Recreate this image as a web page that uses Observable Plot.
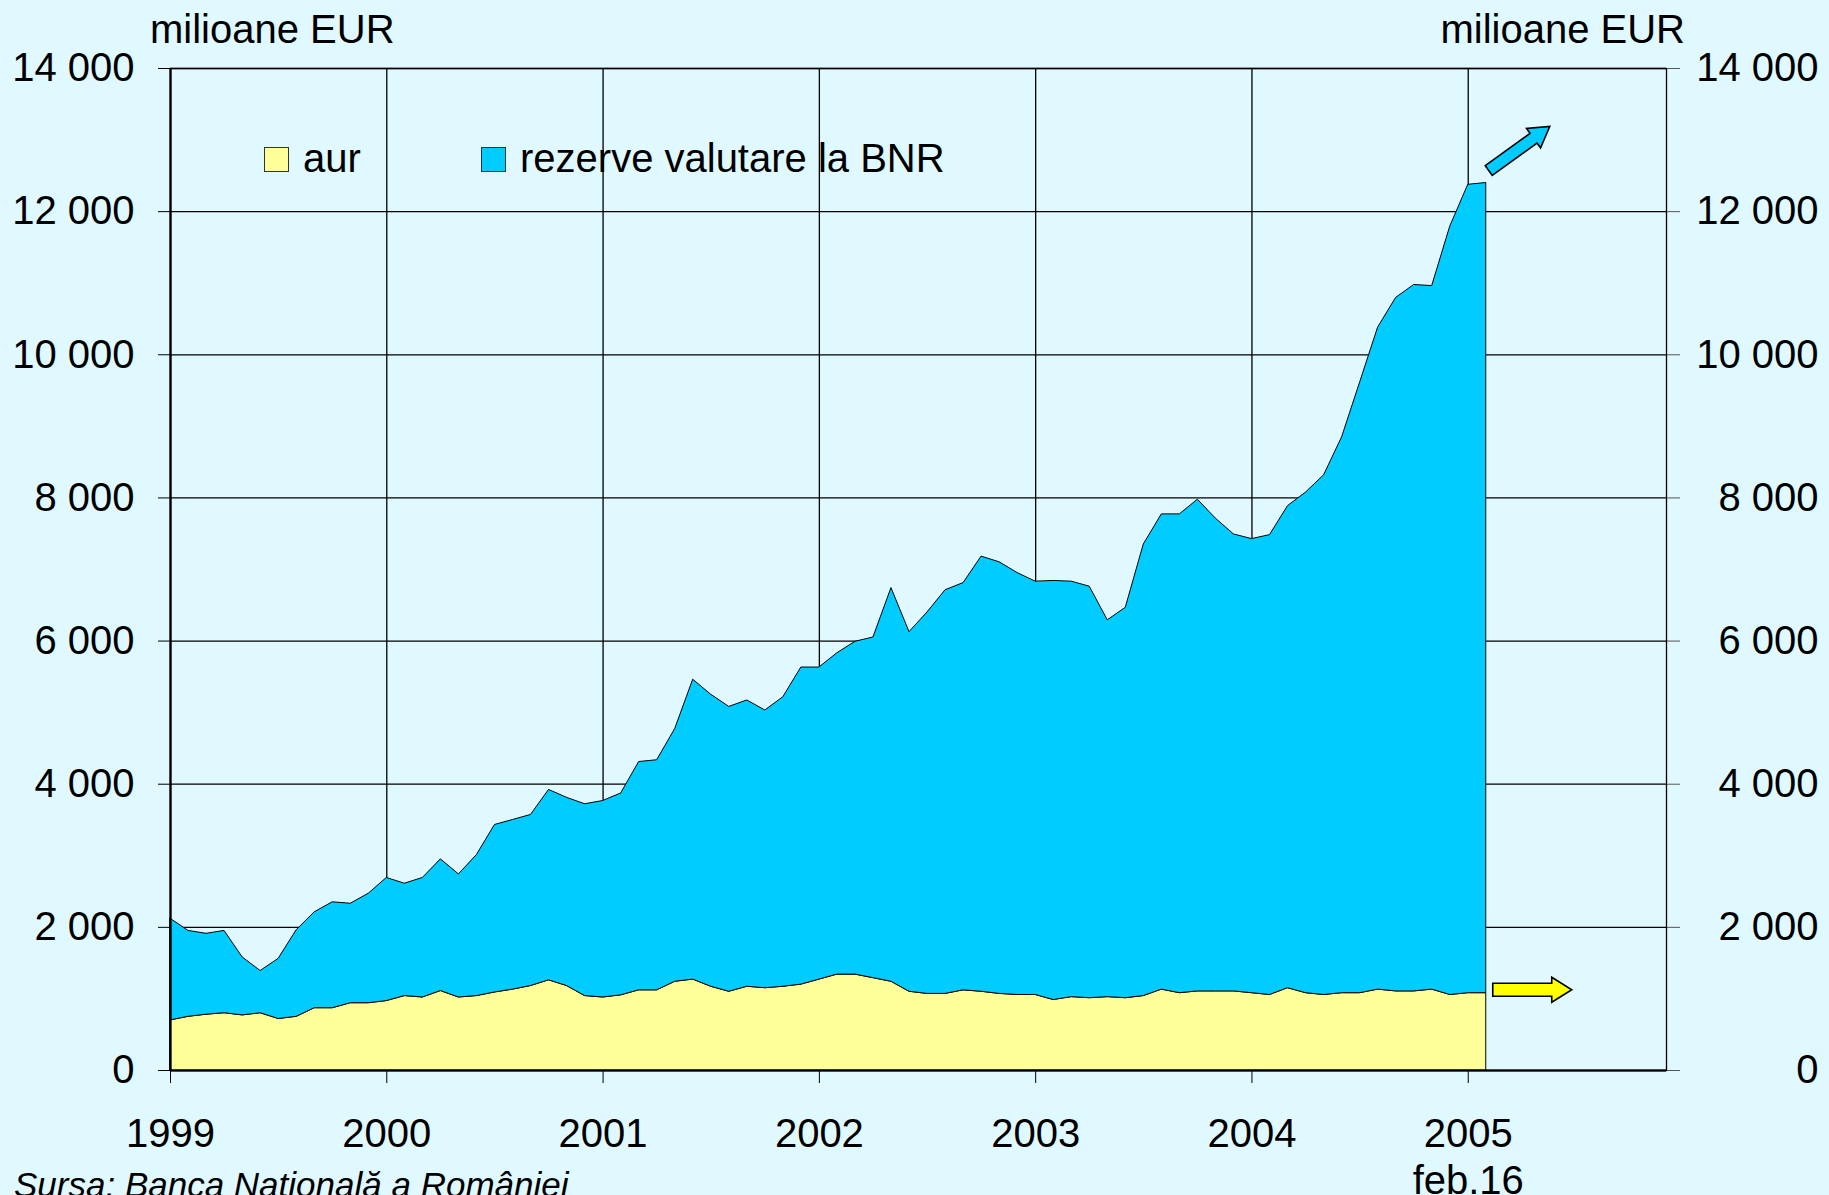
<!DOCTYPE html>
<html>
<head>
<meta charset="utf-8">
<script src="https://cdn.jsdelivr.net/npm/d3@7"></script>
<script src="https://cdn.jsdelivr.net/npm/@observablehq/plot@0.6"></script>
<style>
html, body { margin: 0; padding: 0; background: #E0F8FF; overflow: hidden; }
#wrap { position: relative; width: 1829px; height: 1195px; font-family: "Liberation Sans", Arial, sans-serif; color: #000; }
#wrap svg { position: absolute; left: 0; top: 0; }
.t { position: absolute; font-size: 40px; line-height: 40px; white-space: nowrap; }
.sw { position: absolute; width: 25px; height: 25px; box-sizing: border-box; border: 1.5px solid #333; }
.cap { position: absolute; font-size: 35px; line-height: 35px; font-style: italic; white-space: nowrap; }
</style>
</head>
<body>
<div id="wrap"></div>
<script>
// ---- data (monthly, Jan 1999 .. Feb 2005), milioane EUR ----
const yearLabels = ["1999", "2000", "2001", "2002", "2003", "2004", "2005"];
const lastLabel = "feb.16";
const seriesNames = ["aur", "rezerve valutare la BNR"];
const unitLabel = "milioane EUR";
const sourceText = "Sursa: Banca Naţională a României";
const yTicks = [0, 2000, 4000, 6000, 8000, 10000, 12000, 14000];

const aur = [
  700, 750, 780, 800, 770, 800, 720, 750, 870, 870, 940, 940,
  970, 1040, 1020, 1110, 1020, 1040, 1090, 1130, 1180, 1260, 1180, 1040,
  1020, 1050, 1120, 1120, 1240, 1270, 1170, 1100, 1170, 1150, 1170, 1200,
  1270, 1340, 1340, 1290, 1240, 1100, 1070, 1070, 1120, 1100, 1070, 1055,
  1055, 985, 1025, 1010, 1025, 1010, 1040, 1130, 1080, 1105, 1105, 1105,
  1080, 1055, 1150, 1080, 1055, 1080, 1080, 1130, 1105, 1105, 1130, 1055,
  1080, 1080
];
const rezerve = [
  1420, 1200, 1130, 1150, 810, 590, 840, 1210, 1340, 1480, 1390, 1530,
  1720, 1570, 1670, 1840, 1720, 1970, 2340, 2370, 2390, 2660, 2630, 2680,
  2745, 2820, 3190, 3215, 3530, 4190, 4080, 3980, 4000, 3880, 4045, 4430,
  4360, 4490, 4650, 4760, 5500, 5025, 5330, 5640, 5690, 6080, 6030, 5895,
  5775, 5855, 5805, 5750, 5265, 5455, 6310, 6640, 6690, 6870, 6605, 6385,
  6345, 6425, 6735, 6995, 7260, 7765, 8530, 9250, 9690, 9870, 9830, 10735,
  11295, 11320
];

// ---- table for the library ----
const rows = [];
aur.forEach((v, i) => {
  rows.push({i, serie: seriesNames[0], v});
  rows.push({i, serie: seriesNames[1], v: rezerve[i]});
});
const lastI = aur.length - 1;
const xTicks = yearLabels.map((_, k) => k * 12);
const xMax = yearLabels.length * 12 - 1; // Dec 2005
const fmt = d => d3.format(",")(d).replace(/,/g, " ");
const xFmt = i => {
  const k = i / 12;
  return k === yearLabels.length - 1 ? yearLabels[k] + "\n" + lastLabel : yearLabels[k];
};

// block arrows attached to the end of the series
function blockArrow(g, T, P, w, hw, hl, fill) {
  const dx = P[0] - T[0], dy = P[1] - T[1];
  const L = Math.hypot(dx, dy);
  const ux = dx / L, uy = dy / L, nx = -uy, ny = ux;
  const B = [P[0] - ux * hl, P[1] - uy * hl];
  const pts = [
    [T[0] + nx * w, T[1] + ny * w],
    [B[0] + nx * w, B[1] + ny * w],
    [B[0] + nx * hw, B[1] + ny * hw],
    P,
    [B[0] - nx * hw, B[1] - ny * hw],
    [B[0] - nx * w, B[1] - ny * w],
    [T[0] - nx * w, T[1] - ny * w]
  ];
  g.append("polygon")
    .attr("points", pts.map(p => p.join(",")).join(" "))
    .attr("fill", fill).attr("stroke", "#000").attr("stroke-width", 1.6)
    .attr("stroke-linejoin", "miter");
}
function arrowsMark(index, scales) {
  const g = d3.create("svg:g");
  const xe = scales.x(lastI);
  const yTot = scales.y(aur[lastI] + rezerve[lastI]);
  const yAur = scales.y(aur[lastI]);
  blockArrow(g, [xe + 3, yTot - 12], [xe + 64, yTot - 56], 6, 12, 20, "#00CCFF");
  blockArrow(g, [xe + 7, yAur - 3], [xe + 86, yAur - 3], 6.5, 12.5, 20, "#FFFF00");
  return g.node();
}

const chart = Plot.plot({
  width: 1829,
  height: 1195,
  marginLeft: 170,
  marginRight: 163,
  marginTop: 68,
  marginBottom: 125,
  style: {background: "transparent", fontFamily: "Liberation Sans, Arial, sans-serif", fontSize: "40px", color: "#000", overflow: "visible"},
  x: {domain: [0, xMax]},
  y: {domain: [0, 14000]},
  color: {domain: seriesNames, range: ["#FFFF99", "#00CCFF"]},
  marks: [
    Plot.gridY(yTicks, {stroke: "#000", strokeOpacity: 1, strokeWidth: 1.3}),
    Plot.gridX(xTicks, {stroke: "#000", strokeOpacity: 1, strokeWidth: 1.3}),
    Plot.areaY(rows, {x: "i", y: "v", fill: "serie", stroke: "#000", strokeWidth: 1, strokeLinejoin: "miter"}),
    Plot.frame({stroke: "#000", strokeWidth: 1.3}),
    Plot.ruleY([0], {stroke: "#000", strokeWidth: 2.2}),
    Plot.ruleX([0], {stroke: "#000", strokeWidth: 2.2}),
    Plot.axisY({anchor: "left", ticks: yTicks, tickSize: 12, tickPadding: 24, tickFormat: fmt, label: null, fontSize: 40}),
    Plot.axisY({anchor: "right", ticks: yTicks, tickSize: 13, tickPadding: 139, textAnchor: "end", tickFormat: fmt, label: null, fontSize: 40, stroke: "#555"}),
    Plot.axisX({ticks: xTicks, tickSize: 13, tickPadding: 30, tickFormat: xFmt, label: null, fontSize: 40, lineHeight: 1.18}),
    arrowsMark
  ]
});

const wrap = document.getElementById("wrap");
wrap.appendChild(chart);

function addDiv(cls, text, css) {
  const d = document.createElement("div");
  d.className = cls;
  if (text) d.textContent = text;
  Object.assign(d.style, css);
  wrap.appendChild(d);
  return d;
}
addDiv("t", unitLabel, {left: "150px", top: "9px"});
addDiv("t", unitLabel, {right: "144px", top: "9px"});
addDiv("sw", "", {left: "264px", top: "147px", background: "#FFFF99"});
addDiv("t", seriesNames[0], {left: "303px", top: "138px"});
addDiv("sw", "", {left: "481px", top: "147px", background: "#00CCFF"});
addDiv("t", seriesNames[1], {left: "520px", top: "138px"});
addDiv("cap", sourceText, {left: "14px", top: "1167px"});
</script>
</body>
</html>
